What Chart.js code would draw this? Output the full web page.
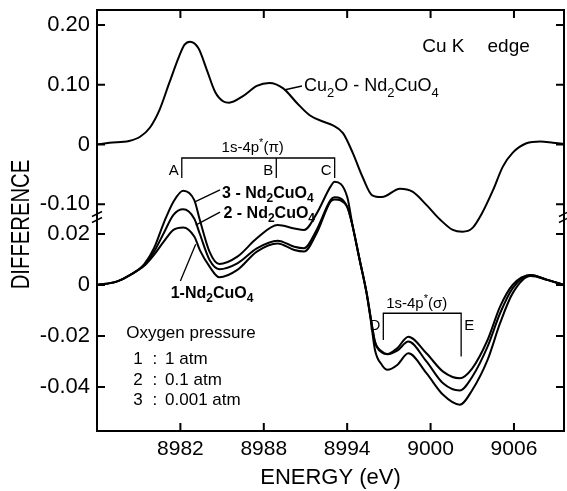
<!DOCTYPE html>
<html>
<head>
<meta charset="utf-8">
<title>Cu K edge difference spectra</title>
<script src="https://cdn.jsdelivr.net/npm/chart.js@4.4.0/dist/chart.umd.min.js"></script>
<style>
  html, body { margin: 0; padding: 0; background: #fff; }
  canvas { display: block; }
</style>
</head>
<body>
<canvas id="diffChart" width="567" height="491"></canvas>
<script>
// values (energy in eV, difference in absorption units)
var energyTop = [8976, 8976.9, 8978.3, 8979.1, 8979.8, 8980.5, 8981.2, 8981.9, 8982.3, 8982.7,
  8983.3, 8983.9, 8984.5, 8985.1, 8985.5, 8986.5, 8987.5, 8988.4, 8989.4, 8990.4,
  8991.3, 8992.3, 8992.9, 8993.7, 8994.4, 8995.1, 8995.8, 8996.5, 8997.8, 8998.7,
  8999.7, 9000.7, 9001.6, 9002.3, 9003.0, 9003.7, 9004.5, 9005.2, 9005.9, 9006.9,
  9007.9, 9008.8, 9009.6];
var cu2oMinusNd = [0, 0.003, 0.006, 0.013, 0.028, 0.058, 0.103, 0.147, 0.167, 0.172,
  0.161, 0.125, 0.088, 0.072, 0.070, 0.081, 0.098, 0.103, 0.094, 0.069,
  0.049, 0.038, 0.033, 0.019, -0.014, -0.054, -0.085, -0.088, -0.074, -0.079,
  -0.101, -0.126, -0.143, -0.146, -0.140, -0.115, -0.076, -0.037, -0.014, 0.002,
  0.005, 0.003, 0.001];

var energyLow = [8976, 8977.4, 8978.4, 8979.4, 8980.1, 8980.8, 8981.5, 8982.2, 8983.0, 8983.4,
  8984.1, 8984.8, 8986.1, 8987.5, 8989.0, 8990.2, 8990.9, 8991.8, 8992.8, 8993.1,
  8994.0, 8994.4, 8994.9, 8995.4, 8995.7, 8996.0, 8996.5, 8996.9, 8997.6, 8998.4,
  8999.7, 9000.9, 9002.1, 9003.0, 9004.1, 9005.0, 9005.9, 9007.2, 9008.4, 9009.6];
// 1 : 1 atm
var nd1 = [0, 0.0013, 0.004, 0.0075, 0.0118, 0.017, 0.0216, 0.0226, 0.019, 0.0137,
  0.0072, 0.003, 0.0059, 0.0131, 0.0163, 0.0137, 0.0131, 0.0203, 0.0327, 0.0335,
  0.0307, 0.0229, 0.0098, -0.0035, -0.014, -0.0255, -0.0314, -0.0333, -0.0314, -0.0268,
  -0.0346, -0.0431, -0.047, -0.0412, -0.0294, -0.015, -0.0033, 0.0035, 0.002, 0];
// 2 : 0.1 atm
var nd2 = [0, 0.0013, 0.004, 0.0078, 0.013, 0.0203, 0.0275, 0.0297, 0.026, 0.020,
  0.0098, 0.0062, 0.0085, 0.0144, 0.0174, 0.015, 0.0144, 0.0216, 0.0333, 0.0344,
  0.0307, 0.0229, 0.0098, -0.0031, -0.0132, -0.0225, -0.0265, -0.0272, -0.0258, -0.0222,
  -0.030, -0.0386, -0.0414, -0.036, -0.0242, -0.0111, -0.0013, 0.0039, 0.002, 0];
// 3 : 0.001 atm
var nd3 = [0, 0.0013, 0.004, 0.0082, 0.0144, 0.0243, 0.0327, 0.037, 0.0333, 0.0255,
  0.013, 0.0082, 0.0111, 0.0183, 0.0235, 0.0222, 0.0216, 0.028, 0.0386, 0.0405,
  0.0346, 0.0229, 0.0098, -0.0031, -0.013, -0.0222, -0.0261, -0.0271, -0.0248, -0.0203,
  -0.0268, -0.034, -0.0366, -0.0327, -0.0216, -0.0085, 0, 0.0039, 0.002, 0];

var energyTicks = [8982, 8988, 8994, 9000, 9006];
var topTicks = [0.20, 0.10, 0, -0.10];
var lowTicks = [0.02, 0, -0.02, -0.04];

var FAM = "'Liberation Sans', Arial, sans-serif";

function pairs(xs, ys) {
  return xs.map(function(x, i) { return {x: x, y: ys[i]}; });
}

function fmt(v) {
  return v === 0 ? '0' : v.toFixed(2);
}

// text with sub/superscripts, parts = [text, shift] (1 sub, -1 sup)
function drawRich(ctx, parts, x, y, size, weight, align) {
  var fontFor = function(p) {
    return weight + ' ' + (p[1] ? Math.round(size * 0.72) : size) + 'px ' + FAM;
  };
  var w = 0;
  parts.forEach(function(p) { ctx.font = fontFor(p); w += ctx.measureText(p[0]).width; });
  var cx = align === 'center' ? x - w / 2 : (align === 'right' ? x - w : x);
  var base = y + size * 0.36;
  ctx.textAlign = 'left';
  ctx.textBaseline = 'alphabetic';
  parts.forEach(function(p) {
    ctx.font = fontFor(p);
    var dy = p[1] === 1 ? size * 0.28 : (p[1] === -1 ? -size * 0.42 : 0);
    ctx.fillText(p[0], cx, base + dy);
    cx += ctx.measureText(p[0]).width;
  });
}

function seg(ctx, pts) {
  ctx.beginPath();
  ctx.moveTo(pts[0], pts[1]);
  for (var i = 2; i < pts.length; i += 2) ctx.lineTo(pts[i], pts[i + 1]);
  ctx.stroke();
}

// frame, inward ticks on all sides, axis break marks
var framePlugin = {
  id: 'frame',
  afterDatasetsDraw: function(chart) {
    var ctx = chart.ctx, a = chart.chartArea;
    var sx = chart.scales.x, yt = chart.scales.yTop, yl = chart.scales.yLow;
    ctx.save();
    ctx.strokeStyle = '#000';
    ctx.lineWidth = 2;
    ctx.strokeRect(a.left, a.top, a.right - a.left, a.bottom - a.top);
    ctx.beginPath();
    sx.ticks.forEach(function(t) {
      var p = sx.getPixelForValue(t.value);
      ctx.moveTo(p, a.bottom); ctx.lineTo(p, a.bottom - 8);
      ctx.moveTo(p, a.top); ctx.lineTo(p, a.top + 8);
    });
    [yt, yl].forEach(function(s) {
      s.ticks.forEach(function(t) {
        var p = s.getPixelForValue(t.value);
        ctx.moveTo(a.left, p); ctx.lineTo(a.left + 8, p);
        ctx.moveTo(a.right, p); ctx.lineTo(a.right - 8, p);
      });
    });
    ctx.stroke();
    var yb = yt.bottom;
    ctx.lineWidth = 1.5;
    [a.left, a.right].forEach(function(x) {
      seg(ctx, [x - 5, yb - 4, x + 5, yb - 9]);
      seg(ctx, [x - 5, yb + 2, x + 5, yb - 3]);
    });
    // y title
    ctx.fillStyle = '#000';
    ctx.translate(a.left - 75, (a.top + a.bottom) / 2 + 4);
    ctx.rotate(-Math.PI / 2);
    ctx.scale(0.78, 1);
    ctx.font = '26px ' + FAM;
    ctx.textAlign = 'center';
    ctx.textBaseline = 'middle';
    ctx.fillText('DIFFERENCE', 0, 0);
    ctx.restore();
  }
};

var notesPlugin = {
  id: 'notes',
  afterDatasetsDraw: function(chart) {
    var ctx = chart.ctx;
    var X = function(e) { return chart.scales.x.getPixelForValue(e); };
    var T = function(v) { return chart.scales.yTop.getPixelForValue(v); };
    var L = function(v) { return chart.scales.yLow.getPixelForValue(v); };
    ctx.save();
    ctx.fillStyle = '#000';
    ctx.strokeStyle = '#000';
    ctx.lineWidth = 1.3;

    drawRich(ctx, [['Cu K', 0]], X(8999.4), T(0.1665), 19, 'normal', 'left');
    drawRich(ctx, [['edge', 0]], X(9004.1), T(0.1665), 19, 'normal', 'left');

    seg(ctx, [X(8989.45), T(0.0912), X(8990.75), T(0.0979)]);
    drawRich(ctx, [['Cu', 0], ['2', 1], ['O - Nd', 0], ['2', 1], ['CuO', 0], ['4', 1]],
      X(8990.9), T(0.0996), 18, 'normal', 'left');

    // 1s-4p*(pi) bracket
    seg(ctx, [X(8982.1), T(-0.0561), X(8982.1), T(-0.0226), X(8993.1), T(-0.0226), X(8993.1), T(-0.0561)]);
    seg(ctx, [X(8988.9), T(-0.0226), X(8988.9), T(-0.0561)]);
    drawRich(ctx, [['A', 0]], X(8982.1) - 3, T(-0.0427), 15, 'normal', 'right');
    drawRich(ctx, [['B', 0]], X(8988.9) - 3, T(-0.0427), 15, 'normal', 'right');
    drawRich(ctx, [['C', 0]], X(8993.1) - 3, T(-0.0427), 15, 'normal', 'right');
    drawRich(ctx, [['1s-4p', 0], ['*', -1], ['(\u03c0)', 0]], X(8987.2), T(-0.0042), 15, 'normal', 'center');

    // 1s-4p*(sigma) bracket
    seg(ctx, [X(8996.6), L(-0.0216), X(8996.6), L(-0.0111), X(9002.2), L(-0.0111), X(9002.2), L(-0.0281)]);
    drawRich(ctx, [['D', 0]], X(8996.6) - 3, L(-0.0157), 15, 'normal', 'right');
    drawRich(ctx, [['E', 0]], X(9002.2) + 3, L(-0.0157), 15, 'normal', 'left');
    drawRich(ctx, [['1s-4p', 0], ['*', -1], ['(\u03c3)', 0]], X(8999.0), L(-0.0071), 15, 'normal', 'center');

    // curve labels
    seg(ctx, [X(8983.0), L(0.0325), X(8984.85), L(0.0373)]);
    drawRich(ctx, [['3 - Nd', 0], ['2', 1], ['CuO', 0], ['4', 1]], X(8985.0), L(0.0365), 16, 'bold', 'left');
    seg(ctx, [X(8983.1), L(0.0235), X(8984.85), L(0.0286)]);
    drawRich(ctx, [['2 - Nd', 0], ['2', 1], ['CuO', 0], ['4', 1]], X(8985.1), L(0.0286), 16, 'bold', 'left');
    seg(ctx, [X(8982.0), L(0.0016), X(8983.1), L(0.016)]);
    drawRich(ctx, [['1-Nd', 0], ['2', 1], ['CuO', 0], ['4', 1]], X(8981.3), L(-0.0027), 16, 'bold', 'left');

    // oxygen pressure key
    drawRich(ctx, [['Oxygen pressure', 0]], X(8978.1), L(-0.0184), 17, 'normal', 'left');
    var rows = [['1', '1 atm', -0.0286], ['2', '0.1 atm', -0.0369], ['3', '0.001 atm', -0.0447]];
    rows.forEach(function(r) {
      drawRich(ctx, [[r[0], 0]], X(8978.6), L(r[2]), 17, 'normal', 'left');
      drawRich(ctx, [[':', 0]], X(8980.0), L(r[2]), 17, 'normal', 'left');
      drawRich(ctx, [[r[1], 0]], X(8980.9), L(r[2]), 17, 'normal', 'left');
    });
    ctx.restore();
  }
};

var lineStyle = {
  borderColor: '#000',
  borderWidth: 2,
  pointRadius: 0,
  fill: false,
  clip: false,
  cubicInterpolationMode: 'monotone'
};

function fitY(s) {
  s.width = 87;
  s.paddingTop = 0;
  s.paddingBottom = 0;
}

var ctx = document.getElementById('diffChart');
var diffChart = new Chart(ctx, {
  type: 'line',
  data: {
    datasets: [
      Object.assign({label: 'Cu2O - Nd2CuO4', yAxisID: 'yTop', data: pairs(energyTop, cu2oMinusNd)}, lineStyle),
      Object.assign({label: '1 - Nd2CuO4', yAxisID: 'yLow', data: pairs(energyLow, nd1)}, lineStyle),
      Object.assign({label: '2 - Nd2CuO4', yAxisID: 'yLow', data: pairs(energyLow, nd2)}, lineStyle),
      Object.assign({label: '3 - Nd2CuO4', yAxisID: 'yLow', data: pairs(energyLow, nd3)}, lineStyle)
    ]
  },
  options: {
    responsive: false,
    animation: false,
    devicePixelRatio: 1,
    layout: { padding: { left: 10, top: 10, right: 3, bottom: 0 } },
    plugins: { legend: { display: false }, tooltip: { enabled: false } },
    scales: {
      x: {
        type: 'linear',
        min: 8976,
        max: 9009.6,
        grid: { display: false, drawTicks: false },
        border: { display: false },
        afterBuildTicks: function(s) { s.ticks = energyTicks.map(function(v) { return {value: v}; }); },
        afterFit: function(s) { s.height = 60; s.paddingLeft = 0; s.paddingRight = 0; },
        ticks: {
          autoSkip: false,
          maxRotation: 0,
          padding: 6,
          color: '#000',
          font: { family: FAM, size: 21 },
          callback: function(v) { return String(v); }
        },
        title: {
          display: true,
          text: 'ENERGY (eV)',
          color: '#000',
          padding: { top: 0, bottom: 0 },
          font: { family: FAM, size: 22 }
        }
      },
      yLow: {
        type: 'linear',
        position: 'left',
        stack: 'diff',
        stackWeight: 1,
        min: -0.0573,
        max: 0.0253,
        grid: { display: false, drawTicks: false },
        border: { display: false },
        afterBuildTicks: function(s) { s.ticks = lowTicks.map(function(v) { return {value: v}; }); },
        afterFit: fitY,
        ticks: {
          padding: 7,
          color: '#000',
          font: { family: FAM, size: 22 },
          callback: function(v) { return fmt(v); }
        }
      },
      yTop: {
        type: 'linear',
        position: 'left',
        stack: 'diff',
        stackWeight: 1,
        min: -0.1272,
        max: 0.2251,
        grid: { display: false, drawTicks: false },
        border: { display: false },
        afterBuildTicks: function(s) { s.ticks = topTicks.map(function(v) { return {value: v}; }); },
        afterFit: fitY,
        ticks: {
          padding: 7,
          color: '#000',
          font: { family: FAM, size: 22 },
          callback: function(v) { return fmt(v); }
        }
      }
    }
  },
  plugins: [framePlugin, notesPlugin]
});
</script>
</body>
</html>
